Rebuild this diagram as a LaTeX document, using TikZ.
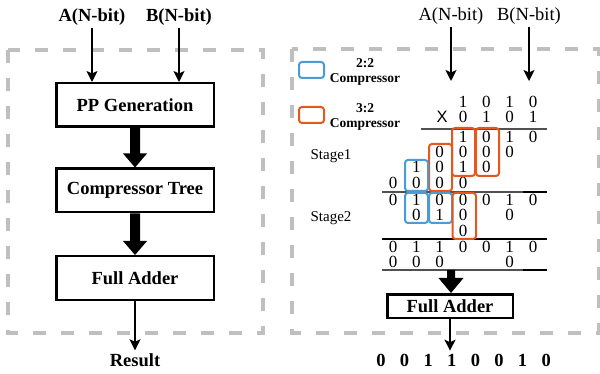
\documentclass[tikz,border=0pt]{standalone}
\usepackage{fontspec}
\setmainfont{Liberation Serif}
\newfontfamily\xsans{Liberation Sans}
\usetikzlibrary{arrows.meta,calc}
\definecolor{dgray}{HTML}{BFBFBF}
\definecolor{cblue}{HTML}{4A9BD6}
\definecolor{corange}{HTML}{E8561E}
\definecolor{rulegray}{HTML}{505050}
\newcommand\fatarr[5]{\fill ($(#1)+(-#3,0)$) -- ($(#2)+(-#3,-#5)$) -- ($(#2)+(-#4,-#5)$) -- (#2) -- ($(#2)+(#4,-#5)$) -- ($(#2)+(#3,-#5)$) -- ($(#1)+(#3,0)$) -- cycle;}
\begin{document}
\begin{tikzpicture}[x=1pt,y=-1pt,
  dbox/.style={draw=dgray, line width=3.5pt, dash pattern=on 13pt off 15pt},
  blk/.style={draw, line width=2.5pt, minimum width=157.5pt, minimum height=43.5pt, inner sep=0pt, font=\bfseries\fontsize{18.5}{20}\selectfont},
  lbl/.style={inner sep=0pt, font=\bfseries\fontsize{18.5}{20}\selectfont},
  rlbl/.style={inner sep=0pt, font=\fontsize{18.5}{20}\selectfont},
  arr/.style={line width=1.4pt, -{Stealth[length=11pt,width=11pt,inset=2.5pt]}},
  dig/.style={inner sep=0pt, text height=11pt, text depth=0pt, font=\fontsize{17}{18}\selectfont},
  bdig/.style={inner sep=0pt, font=\bfseries\fontsize{18.5}{20}\selectfont},
  stg/.style={inner sep=0pt, font=\fontsize{15}{17}\selectfont},
  leg/.style={inner sep=0pt, font=\bfseries\fontsize{13.5}{15}\selectfont},
  cmpb/.style={draw=cblue, line width=2pt, rounded corners=3pt},
  cmpo/.style={draw=corange, line width=2pt, rounded corners=3pt},
  rul/.style={draw=rulegray, line width=1.2pt},
  rulk/.style={draw=black, line width=1.4pt}
]
\useasboundingbox (0,0) rectangle (600,374);
% dashed panels
\draw[dbox] (8,50) rectangle (263,333);
\draw[dbox] (292,49) rectangle (599,333);

% ---------- left panel ----------
\node[lbl] (lA) at (92,17) {A(N-bit)};
\node[lbl] (lB) at (179,17) {B(N-bit)};
\node[blk] (pp) at (135,105) {PP Generation};
\node[blk] (ct) at (135,190.5) {Compressor Tree};
\node[blk] (fa) at (135,278) {Full Adder};
\node[lbl] (res) at (135,360) {Result};
\draw[arr] ([yshift=-2pt]lA.south) -- (pp.north -| lA);
\draw[arr] ([yshift=-2pt]lB.south) -- (pp.north -| lB);
\fatarr{pp.south}{ct.north}{5}{12}{14}
\fatarr{ct.south}{fa.north}{5}{12}{14}
\draw[arr] (fa.south) -- ([yshift=3pt]res.north);

% ---------- right panel ----------
\node[rlbl] (rA) at (451,16.5) {A(N-bit)};
\node[rlbl] (rB) at (529,16.5) {B(N-bit)};
\coordinate (rAend) at (451,81);
\coordinate (rBend) at (529,81);
\draw[arr] ([yshift=-2pt]rA.south) -- (rAend);
\draw[arr] ([yshift=-2pt]rB.south) -- (rBend);

% legend
\draw[cmpb] (299,62) rectangle (324,78);
\node[leg] (l22) at (365,63) {2:2};
\node[leg] (l22c) at (365,79) {Compressor};
\draw[cmpo] (299,107) rectangle (324,123);
\node[leg] (l32) at (365,108) {3:2};
\node[leg] (l32c) at (365,124) {Compressor};

% stage labels
\node[stg] (s1) at (331,156) {Stage1};
\node[stg] (s2) at (331,218) {Stage2};

% multiplicand / multiplier
\foreach \c/\v in {3/1,2/0,1/1,0/0} \node[dig] (ma\c) at ({533-23.33*\c},102) {\v};
\node[inner sep=0pt, text height=11pt, text depth=0pt, font=\xsans\fontsize{16.5}{18}\selectfont] (times) at (442,117) {X};
\foreach \c/\v in {3/0,2/1,1/0,0/1} \node[dig] (mb\c) at ({533-23.33*\c},117) {\v};

% rules
\draw[rul] (421,129) -- (547,129);
\draw[rul] (382,192) -- (547,192);
\draw[rulk] (523,192) -- (547,192);
\draw[rulk] (382,239) -- (547,239);
\draw[rul] (382,270) -- (547,270);
\draw[rulk] (523,270) -- (547,270);

% stage 1 partial products
\foreach \c/\v in {3/1,2/0,1/1,0/0} \node[dig] (pa\c) at ({533-23.33*\c},137) {\v};
\foreach \c/\v in {4/0,3/0,2/0,1/0} \node[dig] (pb\c) at ({533-23.33*\c},152.5) {\v};
\foreach \c/\v in {5/1,4/0,3/1,2/0} \node[dig] (pc\c) at ({533-23.33*\c},167.5) {\v};
\foreach \c/\v in {6/0,5/0,4/0,3/0} \node[dig] (pd\c) at ({533-23.33*\c},183) {\v};

% stage 2
\foreach \c/\v in {6/0,5/1,4/0,3/0,2/0,1/1,0/0} \node[dig] (sa\c) at ({533-23.33*\c},200) {\v};
\foreach \c/\v in {5/0,4/1,3/0,1/0} \node[dig] (sb\c) at ({533-23.33*\c},215.5) {\v};
\foreach \c/\v in {3/0} \node[dig] (sc\c) at ({533-23.33*\c},231) {\v};

% final two rows
\foreach \c/\v in {6/0,5/1,4/1,3/0,2/0,1/1,0/0} \node[dig] (ta\c) at ({533-23.33*\c},247) {\v};
\foreach \c/\v in {6/0,5/0,4/0,1/0} \node[dig] (tb\c) at ({533-23.33*\c},262.5) {\v};

% compressor boxes
\draw[cmpo] (452,128) rectangle (475,176);
\draw[cmpo] (476,128) rectangle (499,176);
\draw[cmpo] (429,144) rectangle (452,191);
\draw[cmpb] (405,160) rectangle (428,191);
\draw[cmpb] (405,193) rectangle (428,223);
\draw[cmpb] (429,193) rectangle (452,223);
\draw[cmpo] (452.5,193) rectangle (476,239);

% full adder (right)
\node[blk, minimum width=125.5pt, minimum height=23.5pt] (fa2) at (450,306) {Full Adder};
\coordinate (ln4) at (451,270);
\coordinate (fa2top) at (ln4 |- fa2.north);
\fatarr{ln4}{fa2top}{4}{12.5}{15}

% result bits
\foreach \i/\v in {0/0,1/0,2/1,3/1,4/0,5/0,6/1,7/0} \node[bdig] (o\i) at ({381+23.6*\i},360) {\v};
\coordinate (oarr) at ([yshift=3pt]fa2.south |- o3.north);
\draw[arr] (fa2.south) -- (oarr);
\end{tikzpicture}
\end{document}
